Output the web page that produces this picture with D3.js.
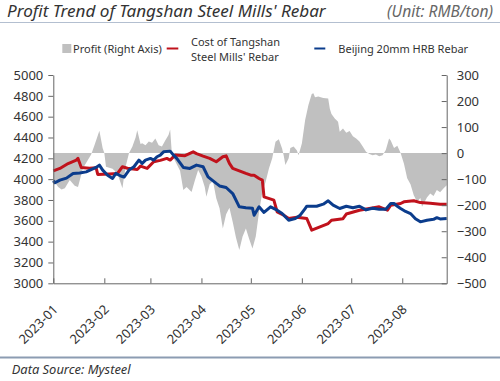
<!DOCTYPE html>
<html>
<head>
<meta charset="utf-8">
<script src="https://cdn.jsdelivr.net/npm/d3@7"></script>
<style>
  html, body { margin: 0; padding: 0; background: #fff; }
  svg { display: block; font-family: "Noto Sans", sans-serif; }
</style>
</head>
<body>
<svg id="chart" width="500" height="381"></svg>
<script>
// ---- Data ----
const leftTicks = [3000, 3200, 3400, 3600, 3800, 4000, 4200, 4400, 4600, 4800, 5000];
const rightTicks = [-500, -400, -300, -200, -100, 0, 100, 200, 300];
const monthTicks = ["2023-01", "2023-02", "2023-03", "2023-04", "2023-05", "2023-06", "2023-07", "2023-08"];

const profitDates = ["01-01","01-02","01-04","01-06","01-08","01-11","01-14","01-16","01-19","01-24","01-26","01-29","01-31","02-01","02-02","02-06","02-09","02-12","02-13","02-14","02-16","02-18","02-20","02-21","02-23","02-24","02-26","02-28","03-02","03-04","03-06","03-08","03-10","03-12","03-13","03-14","03-16","03-19","03-21","03-23","03-26","03-28","03-30","04-01","04-03","04-04","04-06","04-08","04-10","04-12","04-14","04-16","04-18","04-20","04-22","04-24","04-26","04-28","04-30","05-02","05-04","05-06","05-08","05-10","05-12","05-14","05-16","05-18","05-20","05-21","05-22","05-24","05-25","05-27","05-29","05-30","06-01","06-03","06-05","06-07","06-08","06-09","06-11","06-14","06-17","06-18","06-19","06-21","06-23","06-24","06-26","06-28","06-30","07-02","07-04","07-06","07-08","07-10","07-12","07-14","07-16","07-18","07-20","07-22","07-24","07-25","07-27","07-29","07-31","08-02","08-04","08-06","08-08","08-10","08-12","08-13","08-16","08-18","08-20","08-22","08-24","08-26","08-28"];
const profitValues = [-100,-113,-130,-140,-135,-103,-125,-130,-58,-5,30,86,19,0,-52,-60,-78,-135,-90,-50,0,24,60,88,35,38,30,45,40,56,30,25,48,70,91,0,-30,-68,-142,-130,-149,-105,-65,-90,-130,-168,-120,-107,-173,-212,-290,-235,-210,-265,-325,-372,-320,-290,-330,-366,-320,-226,-149,-110,-59,-20,44,53,18,-10,-46,-20,20,25,10,-8,37,127,185,227,230,215,217,212,210,170,150,133,120,82,95,78,85,65,56,45,25,5,-3,-8,-5,-12,-8,12,56,48,20,28,0,-40,-97,-120,-162,-187,-172,-206,-170,-155,-165,-142,-150,-136,-123];

const costDates = ["01-01","01-05","01-10","01-15","01-16","01-18","01-23","01-27","01-28","02-04","02-09","02-12","02-15","02-21","02-23","02-27","03-03","03-07","03-11","03-13","03-16","03-22","03-27","03-29","04-02","04-06","04-10","04-14","04-16","04-18","04-20","04-24","04-28","05-01","05-03","05-06","05-08","05-09","05-15","05-17","05-21","05-24","05-29","06-04","06-07","06-12","06-17","06-19","06-26","06-28","07-06","07-12","07-18","07-23","07-25","07-31","08-02","08-08","08-12","08-18","08-24","08-28"];
const costValues = [4080,4103,4150,4183,4199,4112,4105,4110,4045,4050,4055,4119,4105,4093,4125,4103,4167,4180,4199,4183,4231,4225,4262,4245,4221,4200,4167,4215,4224,4151,4103,4080,4055,4038,4038,4006,3990,3830,3798,3686,3654,3622,3635,3622,3510,3542,3574,3606,3620,3665,3702,3718,3734,3702,3750,3766,3782,3792,3775,3768,3760,3760];

const priceDates = ["01-01","01-02","01-05","01-09","01-13","01-17","01-21","01-27","01-29","01-31","02-03","02-06","02-08","02-11","02-13","02-16","02-19","02-22","02-24","02-26","03-01","03-03","03-05","03-07","03-09","03-13","03-15","03-17","03-21","03-25","03-29","04-02","04-05","04-10","04-12","04-16","04-20","04-24","04-28","05-02","05-03","05-06","05-09","05-13","05-17","05-20","05-24","05-28","05-31","06-03","06-04","06-10","06-14","06-17","06-20","06-24","06-28","07-02","07-06","07-10","07-14","07-18","07-22","07-25","07-27","07-29","07-31","08-03","08-06","08-09","08-12","08-16","08-20","08-22","08-24","08-28"];
const priceValues = [3985,3965,3990,4010,4055,4060,4070,4112,4135,4087,4038,4006,4055,4030,4020,4087,4119,4183,4151,4183,4199,4183,4215,4231,4262,4269,4231,4199,4112,4103,4135,4119,4022,3959,3935,3920,3862,3734,3725,3720,3654,3734,3680,3734,3702,3670,3606,3622,3654,3718,3740,3740,3760,3792,3750,3718,3740,3725,3740,3705,3720,3712,3712,3766,3766,3740,3718,3690,3670,3620,3590,3606,3614,3630,3618,3622];

// ---- Build ----
const parse = d3.timeParse("%Y-%m-%d");
const toDate = s => parse("2023-" + s);
const profit = profitDates.map((d, i) => ({ date: toDate(d), v: profitValues[i] }));
const cost = costDates.map((d, i) => ({ date: toDate(d), v: costValues[i] }));
const price = priceDates.map((d, i) => ({ date: toDate(d), v: priceValues[i] }));

const svg = d3.select("#chart");
const L = 53.3, R = 446.7, T = 75, B = 283.3;

const x = d3.scaleTime().domain([toDate("01-01"), toDate("08-28")]).range([L, R]);
const yL = d3.scaleLinear().domain([3000, 5000]).range([B, T]);
const yR = d3.scaleLinear().domain([-500, 300]).range([B, T]);

// fit a text element's font size so it spans a target width
function fit(sel, target) {
  const w = sel.node().getComputedTextLength();
  const fs = parseFloat(sel.attr("font-size"));
  if (w > 0) sel.attr("font-size", (fs * target / w).toFixed(2));
  return sel;
}

// Title & header
fit(svg.append("text").attr("x", 7).attr("y", 17)
  .attr("font-size", 15).attr("font-style", "italic").attr("fill", "#333")
  .text("Profit Trend of Tangshan Steel Mills' Rebar"), 319);
fit(svg.append("text").attr("x", 493).attr("y", 17).attr("text-anchor", "end")
  .attr("font-size", 14).attr("font-style", "italic").attr("fill", "#666")
  .text("(Unit: RMB/ton)"), 106);
svg.append("line").attr("x1", 0).attr("x2", 500).attr("y1", 22.5).attr("y2", 22.5)
  .attr("stroke", "#b3bfd0").attr("stroke-width", 1);

// Legend
const lg = svg.append("g").attr("font-size", 11).attr("fill", "#333");
lg.append("rect").attr("x", 62.3).attr("y", 44).attr("width", 9).attr("height", 9).attr("fill", "#c0c0c0");
lg.append("text").attr("x", 73).attr("y", 52.5).attr("fill", "#333").text("Profit (Right Axis)");
lg.append("line").attr("x1", 166.7).attr("x2", 178.3).attr("y1", 48.5).attr("y2", 48.5).attr("stroke", "#c0121c").attr("stroke-width", 2);
lg.append("text").attr("x", 191).attr("y", 45.5).attr("fill", "#333").text("Cost of Tangshan");
lg.append("text").attr("x", 191).attr("y", 61).attr("fill", "#333").text("Steel Mills' Rebar");
lg.append("line").attr("x1", 314.3).attr("x2", 325.3).attr("y1", 48.5).attr("y2", 48.5).attr("stroke", "#0b3c8c").attr("stroke-width", 2);
lg.append("text").attr("x", 338.3).attr("y", 52.5).attr("fill", "#333").text("Beijing 20mm HRB Rebar");

// Profit area
svg.append("path").datum(profit)
  .attr("fill", "#c0c0c0")
  .attr("d", d3.area().x(d => x(d.date)).y0(yR(0)).y1(d => yR(d.v)));

// Lines
svg.append("path").datum(cost)
  .attr("fill", "none").attr("stroke", "#c0121c").attr("stroke-width", 3).attr("stroke-linejoin", "round")
  .attr("d", d3.line().x(d => x(d.date)).y(d => yL(d.v)));
svg.append("path").datum(price)
  .attr("fill", "none").attr("stroke", "#0b3c8c").attr("stroke-width", 3).attr("stroke-linejoin", "round")
  .attr("d", d3.line().x(d => x(d.date)).y(d => yL(d.v)));

// Axes
function styleAxis(g) {
  g.selectAll("path.domain").attr("stroke", "#666");
  g.selectAll(".tick line").attr("stroke", "#666");
  g.selectAll(".tick text").attr("fill", "#333").attr("font-size", 13).attr("font-family", "Noto Sans, sans-serif");
}
const gL = svg.append("g").attr("transform", `translate(${L},0)`)
  .call(d3.axisLeft(yL).tickValues(leftTicks).tickFormat(d3.format("d")).tickSize(5).tickSizeOuter(0).tickPadding(5));
styleAxis(gL);
const gR = svg.append("g").attr("transform", `translate(${R},0)`)
  .call(d3.axisRight(yR).tickValues(rightTicks).tickFormat(d3.format("d")).tickSize(-5).tickSizeOuter(0).tickPadding(10));
styleAxis(gR);
const monthDates = monthTicks.map(m => parse(m + "-01"));
const gB = svg.append("g").attr("transform", `translate(0,${B})`)
  .call(d3.axisBottom(x).tickValues(monthDates).tickFormat(d3.timeFormat("%Y-%m")).tickSize(-5).tickSizeOuter(0));
styleAxis(gB);
gB.selectAll(".tick text")
  .attr("text-anchor", "end")
  .attr("dy", null).attr("y", null)
  .attr("transform", "translate(5,27) rotate(-45)");

// Footer
svg.append("line").attr("x1", 0).attr("x2", 500).attr("y1", 357.5).attr("y2", 357.5)
  .attr("stroke", "#8c9cb2").attr("stroke-width", 2);
fit(svg.append("text").attr("x", 11.7).attr("y", 374)
  .attr("font-size", 12).attr("font-style", "italic").attr("fill", "#333")
  .text("Data Source: Mysteel"), 119);
</script>
</body>
</html>
